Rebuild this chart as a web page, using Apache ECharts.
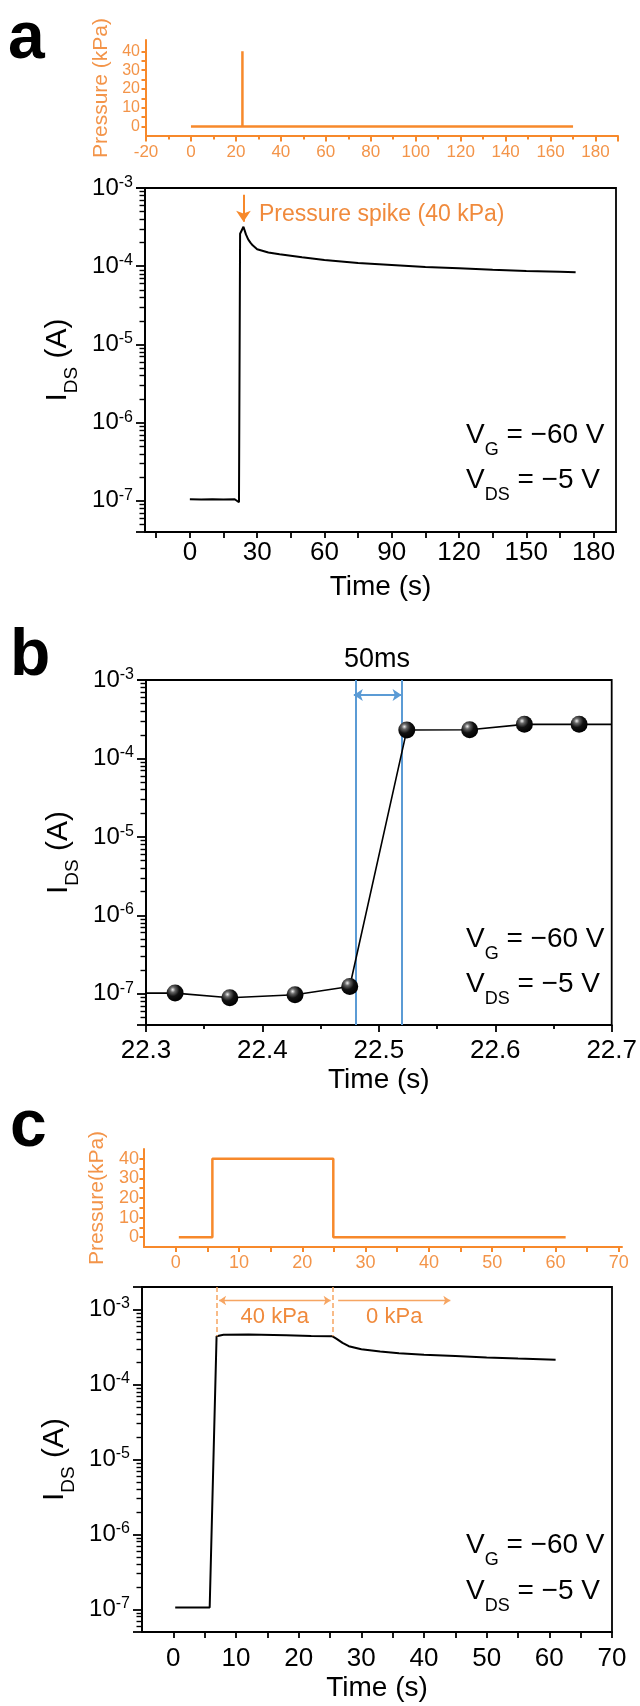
<!DOCTYPE html>
<html><head><meta charset="utf-8">
<script src="https://cdn.jsdelivr.net/npm/echarts@6/dist/echarts.min.js"></script>
<style>html,body{margin:0;padding:0;background:#fff}#c{width:640px;height:1706px}</style>
</head><body><div id="c"></div>
<script>
// ---------------- data ----------------
const aPressTime = [0, 22.9, 22.9, 22.9, 170];
const aPressKPa  = [0, 0, 40, 0, 0];
const aTime    = [0, 5, 10, 15, 20, 21.9, 22.4, 23.9, 25, 26, 27, 28, 30, 35, 40, 50, 60, 75, 90, 105, 120, 135, 150, 165, 172];
const aCurrent = [1.05e-7, 1.04e-7, 1.05e-7, 1.04e-7, 1.05e-7, 9.6e-8, 2.6e-4, 3.2e-4, 2.55e-4, 2.2e-4, 2.0e-4, 1.85e-4, 1.65e-4, 1.5e-4, 1.42e-4, 1.3e-4, 1.2e-4, 1.1e-4, 1.04e-4, 9.8e-5, 9.4e-5, 9.0e-5, 8.7e-5, 8.5e-5, 8.4e-5];
const aArrowTime = 23.9;
const aArrowCurrent = [8.2e-4, 3.7e-4];

const bTime    = [22.325, 22.372, 22.428, 22.475, 22.524, 22.578, 22.625, 22.672];
const bCurrent = [1.02e-7, 8.9e-8, 9.7e-8, 1.24e-7, 2.3e-4, 2.32e-4, 2.72e-4, 2.72e-4];
const bEdgeTime    = [22.3, 22.7];
const bEdgeCurrent = [1.02e-7, 2.72e-4];
const bMarkTimes = [22.475, 22.525];
const bArrowTime = [22.4785, 22.5195];
const bArrowCurrent = 6.45e-4;

const cPressTime = [0.5, 5.8, 5.8, 24.9, 24.9, 61.6];
const cPressKPa  = [0, 0, 40, 40, 0, 0];
const cTime    = [0.3, 5.8, 6.9, 8, 12, 18, 22, 25.4, 26, 27, 28, 30, 33, 36, 40, 45, 50, 55, 61];
const cCurrent = [1.06e-7, 1.06e-7, 4.4e-4, 4.6e-4, 4.65e-4, 4.55e-4, 4.45e-4, 4.4e-4, 4.1e-4, 3.6e-4, 3.25e-4, 2.95e-4, 2.75e-4, 2.62e-4, 2.5e-4, 2.4e-4, 2.3e-4, 2.22e-4, 2.14e-4];
const cMarkTimes = [6.9, 25.5];
const cMarkTop = 2e-3, cMarkBottom = 4.4e-4;
const cArrow40 = [7.3, 25.1];
const cArrow0  = [26.3, 44.2];
const cArrowCurrent = 1.32e-3;

// ---------------- tick labels ----------------
const aPressXTicks = [-20, 0, 20, 40, 60, 80, 100, 120, 140, 160, 180];
const pressYTicks  = [0, 10, 20, 30, 40];
const pressYMinor  = [5, 15, 25, 35];
const aXTicks = [0, 30, 60, 90, 120, 150, 180];
const aXMinor = [-15, 15, 45, 75, 105, 135, 165];
const bXTicks = [22.3, 22.4, 22.5, 22.6, 22.7];
const cXTicks = [0, 10, 20, 30, 40, 50, 60, 70];
const cXMinor = [5, 15, 25, 35, 45, 55, 65];

// ---------------- styles ----------------
const ORANGE = '#F7892B';
const ORANGE_LBL = '#F39449';
const ORANGE_TXT = '#F08A3C';
const ORANGE_LIGHT = '#F6A562';
const BLUE = '#5B9BD5';
const FF = '"Liberation Sans", Arial, Helvetica, sans-serif';
const AX = 1.8;

const zip = (xs, ys) => xs.map((x, i) => [x, ys[i]]);
const merge = (a, b) => a.concat(b).sort((p, q) => p - q);

function linAxis(o) {
  const ax = {
    type: 'value', gridIndex: o.grid, min: o.min, max: o.max, position: o.pos,
    axisLine: {show: true, onZero: false, lineStyle: {color: o.color, width: o.lw || AX}},
    axisTick: {show: true, inside: false, length: o.len || 6, lineStyle: {color: o.color, width: o.lw || AX}},
    axisLabel: {show: true, customValues: o.labels, margin: o.margin, color: o.lblColor || o.color,
      fontSize: o.fs, fontFamily: FF, formatter: o.fmt || (v => String(v))},
    splitLine: {show: false}, minorSplitLine: {show: false},
    minorTick: o.minorSplit ? {show: true, splitNumber: o.minorSplit, length: o.minorLen || 3.5, lineStyle: {color: o.color, width: o.lw || AX}} : {show: false}
  };
  if (o.tickVals) ax.axisTick.customValues = o.tickVals;
  if (o.interval) ax.interval = o.interval;
  if (o.name) {
    ax.name = o.name; ax.nameLocation = 'middle'; ax.nameGap = o.nameGap;
    ax.nameTextStyle = {color: o.nameColor || o.color, fontSize: o.nameFs, fontFamily: FF};
    if (o.pos === 'left') ax.nameRotate = 90;
  }
  return ax;
}

const expRich = {
  b: {fontSize: 24, fontFamily: FF, color: '#000', lineHeight: 27},
  s: {fontSize: 16, fontFamily: FF, color: '#000', lineHeight: 16, verticalAlign: 'top'}
};
function expFmt(v) {
  const e = Math.log10(v), r = Math.round(e);
  if (Math.abs(e - r) > 1e-4) return '';
  return '{b|10}{s|' + r + '}';
}
const idsRich = {
  i: {fontSize: 30, fontFamily: FF, color: '#000', lineHeight: 31, verticalAlign: 'top'},
  d: {fontSize: 19, fontFamily: FF, color: '#000', lineHeight: 19, verticalAlign: 'top', padding: [19, 0, 0, 0]}
};
function logAxis(grid, min, max, gap) {
  return {
    type: 'log', logBase: 10, gridIndex: grid, min, max, position: 'left',
    axisLine: {show: true, onZero: false, lineStyle: {color: '#000', width: AX}},
    axisTick: {show: true, inside: false, length: 9, lineStyle: {color: '#000', width: 1.8}},
    minorTick: {show: true, splitNumber: 9, length: 5.5, lineStyle: {color: '#000', width: 1.4}},
    splitLine: {show: false}, minorSplitLine: {show: false},
    axisLabel: {show: true, margin: 12, formatter: expFmt, rich: expRich},
    name: '{i|I}{d|DS}{i| (A)}', nameLocation: 'middle', nameRotate: 90, nameGap: gap,
    nameTextStyle: {rich: idsRich}
  };
}

const frame = {show: true, borderColor: '#000', borderWidth: AX, backgroundColor: 'transparent'};
const option = {
  animation: false,
  backgroundColor: '#fff',
  grid: [
    {left: 146, top: 40, width: 472, height: 96},
    Object.assign({left: 145, top: 188, width: 471, height: 344}, frame),
    Object.assign({left: 146, top: 680, width: 470, height: 345}, frame),
    {left: 144, top: 1149, width: 478, height: 98},
    Object.assign({left: 142, top: 1287, width: 470, height: 345}, frame)
  ],
  xAxis: [
    linAxis({grid: 0, pos: 'bottom', min: -20, max: 190, interval: 20, minorSplit: 2, labels: aPressXTicks,
      color: ORANGE, lblColor: ORANGE_LBL, fs: 17, margin: 8, len: 5.5, minorLen: 3.5, lw: 2}),
    linAxis({grid: 1, pos: 'bottom', min: -20, max: 190, tickVals: merge(aXTicks, aXMinor), labels: aXTicks,
      color: '#000', fs: 26, margin: 8, len: 6, name: 'Time (s)', nameGap: 41, nameFs: 28}),
    linAxis({grid: 2, pos: 'bottom', min: 22.3, max: 22.7, interval: 0.1, minorSplit: 2, labels: bXTicks,
      color: '#000', fs: 26, margin: 13, len: 7, minorLen: 4, fmt: v => v.toFixed(1),
      name: 'Time (s)', nameGap: 41, nameFs: 28}),
    linAxis({grid: 3, pos: 'bottom', min: -5, max: 70.5, tickVals: merge(cXTicks, cXMinor), labels: cXTicks,
      color: ORANGE, lblColor: ORANGE_LBL, fs: 18, margin: 7, len: 5, lw: 2}),
    linAxis({grid: 4, pos: 'bottom', min: -5, max: 70, tickVals: merge(cXTicks, cXMinor), labels: cXTicks,
      color: '#000', fs: 26, margin: 14, len: 6, name: 'Time (s)', nameGap: 42, nameFs: 28})
  ],
  yAxis: [
    linAxis({grid: 0, pos: 'left', min: -5, max: 46, tickVals: merge(pressYTicks, pressYMinor), labels: pressYTicks,
      color: ORANGE, lblColor: ORANGE_LBL, fs: 16, margin: 6, len: 4.5, lw: 2,
      name: 'Pressure (kPa)', nameColor: ORANGE_LBL, nameGap: 32, nameFs: 21}),
    logAxis(1, 4e-8, 1e-3, 66),
    logAxis(2, 4e-8, 1e-3, 67),
    linAxis({grid: 3, pos: 'left', min: -5, max: 45, tickVals: merge(pressYTicks, pressYMinor), labels: pressYTicks,
      color: ORANGE, lblColor: ORANGE_LBL, fs: 18, margin: 5, len: 4.5, lw: 2,
      name: 'Pressure(kPa)', nameColor: ORANGE_LBL, nameGap: 32, nameFs: 21}),
    logAxis(4, 5e-8, 2e-3, 63)
  ],
  series: [
    {type: 'line', xAxisIndex: 0, yAxisIndex: 0, data: zip(aPressTime, aPressKPa), symbol: 'none',
      lineStyle: {color: ORANGE, width: 2.5}, itemStyle: {color: ORANGE}, silent: true},
    {type: 'line', xAxisIndex: 1, yAxisIndex: 1, data: zip(aTime, aCurrent), symbol: 'none',
      lineStyle: {color: '#000', width: 2}, itemStyle: {color: '#000'}, silent: true,
      markLine: {silent: true, symbol: ['none', 'arrow'], symbolSize: 11, label: {show: false},
        lineStyle: {color: ORANGE, width: 2, type: 'solid'},
        data: [[{coord: [aArrowTime, aArrowCurrent[0]]}, {coord: [aArrowTime, aArrowCurrent[1]]}]]}},
    {type: 'line', xAxisIndex: 2, yAxisIndex: 2,
      data: [{value: [bEdgeTime[0], bEdgeCurrent[0]], symbol: 'none'}]
        .concat(zip(bTime, bCurrent).map(p => ({value: p})))
        .concat([{value: [bEdgeTime[1], bEdgeCurrent[1]], symbol: 'none'}]),
      symbol: 'circle', symbolSize: 17, showSymbol: true, showAllSymbol: true, silent: true,
      lineStyle: {color: '#000', width: 1.6},
      itemStyle: {color: new echarts.graphic.RadialGradient(0.36, 0.3, 0.7, [
        {offset: 0, color: '#f2f2f2'}, {offset: 0.22, color: '#666'}, {offset: 0.55, color: '#111'}, {offset: 1, color: '#000'}])},
      z: 3,
      markLine: {silent: true, symbol: 'none', label: {show: false}, z: 2,
        lineStyle: {color: BLUE, width: 2, type: 'solid'},
        data: [
          {xAxis: bMarkTimes[0]}, {xAxis: bMarkTimes[1]},
          [{coord: [bArrowTime[0], bArrowCurrent], symbol: 'arrow', symbolSize: 9, lineStyle: {color: BLUE, width: 1.8}},
           {coord: [bArrowTime[1], bArrowCurrent], symbol: 'arrow', symbolSize: 9}]
        ]}},
    {type: 'line', xAxisIndex: 3, yAxisIndex: 3, data: zip(cPressTime, cPressKPa), symbol: 'none',
      lineStyle: {color: ORANGE, width: 2.5}, itemStyle: {color: ORANGE}, silent: true},
    {type: 'line', xAxisIndex: 4, yAxisIndex: 4, data: zip(cTime, cCurrent), symbol: 'none',
      lineStyle: {color: '#000', width: 2}, itemStyle: {color: '#000'}, silent: true,
      markLine: {silent: true, symbol: 'none', label: {show: false},
        lineStyle: {color: ORANGE_LIGHT, width: 1.5, type: [5, 3]},
        data: [
          [{coord: [cMarkTimes[0], cMarkTop]}, {coord: [cMarkTimes[0], cMarkBottom]}],
          [{coord: [cMarkTimes[1], cMarkTop]}, {coord: [cMarkTimes[1], cMarkBottom]}],
          [{coord: [cArrow40[0], cArrowCurrent], symbol: 'arrow', symbolSize: 7, lineStyle: {type: 'solid', width: 1.3, color: ORANGE_LIGHT},
            label: {show: true, position: 'insideMiddleBottom', formatter: '40 kPa', color: ORANGE_TXT, fontSize: 22, fontFamily: FF, distance: 5}},
           {coord: [cArrow40[1], cArrowCurrent], symbol: 'arrow', symbolSize: 7}],
          [{coord: [cArrow0[0], cArrowCurrent], symbol: 'none', lineStyle: {type: 'solid', width: 1.3, color: ORANGE_LIGHT},
            label: {show: true, position: 'insideMiddleBottom', formatter: '0 kPa', color: ORANGE_TXT, fontSize: 22, fontFamily: FF, distance: 5}},
           {coord: [cArrow0[1], cArrowCurrent], symbol: 'arrow', symbolSize: 7}]
        ]}}
  ],
  graphic: [
    {type: 'text', x: 8, y: 7, style: {text: 'a', font: 'bold 66px ' + FF, fill: '#000', verticalAlign: 'top'}},
    {type: 'text', x: 10, y: 624, style: {text: 'b', font: 'bold 66px ' + FF, fill: '#000', verticalAlign: 'top'}},
    {type: 'text', x: 10, y: 1095, style: {text: 'c', font: 'bold 66px ' + FF, fill: '#000', verticalAlign: 'top'}},
    {type: 'text', x: 259, y: 215, style: {text: 'Pressure spike (40 kPa)', font: '23px ' + FF, fill: ORANGE_TXT, verticalAlign: 'middle'}},
    {type: 'text', x: 377, y: 660, style: {text: '50ms', font: '27px ' + FF, fill: '#000', align: 'center', verticalAlign: 'middle'}}
  ]
};

const vRich = {
  v: {fontSize: 28, fontFamily: FF, fill: '#000', color: '#000', lineHeight: 31, verticalAlign: 'top'},
  g: {fontSize: 18, fontFamily: FF, fill: '#000', color: '#000', lineHeight: 18, verticalAlign: 'top', padding: [20, 0, 0, 0]}
};
[[421, 466], [925, 970], [1531, 1577]].forEach(([y1, y2]) => {
  option.graphic.push({type: 'text', x: 466, y: y1, style: {text: '{v|V}{g|G}{v| = −60 V}', rich: vRich, verticalAlign: 'top'}});
  option.graphic.push({type: 'text', x: 466, y: y2, style: {text: '{v|V}{g|DS}{v| = −5 V}', rich: vRich, verticalAlign: 'top'}});
});

const chart = echarts.init(document.getElementById('c'), null, {renderer: 'canvas', width: 640, height: 1706});
chart.setOption(option);
</script>
</body></html>
